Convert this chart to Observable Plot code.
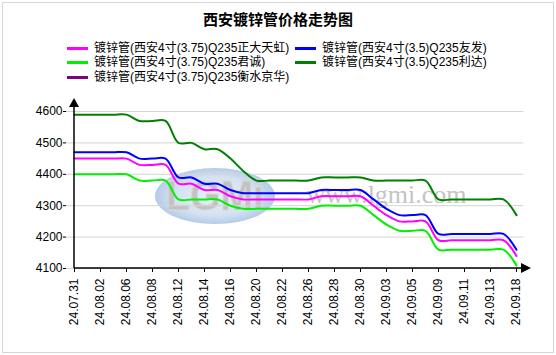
<!DOCTYPE html>
<html>
<head>
<meta charset="utf-8">
<script src="https://cdn.jsdelivr.net/npm/d3@7"></script>
<script src="https://cdn.jsdelivr.net/npm/@observablehq/plot@0.6"></script>
<style>
  html, body { margin: 0; padding: 0; background: #fff; }
  #wrap { position: relative; width: 556px; height: 355px; overflow: hidden; background: #fff;
          font-family: 'Liberation Sans', Arial, 'Noto Sans CJK SC', sans-serif; }
  #border { position: absolute; left: 2px; top: 2px; width: 550px; height: 349px; border: 1px solid #d6d6d6; pointer-events: none; }
  #title { position: absolute; left: 0; top: 12px; width: 556px; text-align: center; font-size: 15px; font-weight: bold;
           line-height: 16px; color: #000; font-family: 'Liberation Sans', 'Noto Sans CJK SC', sans-serif; }
  .lg { position: absolute; height: 14px; line-height: 14px; font-size: 12px; color: #000; white-space: nowrap; }
  .lg .sw { position: absolute; left: 0; top: 6px; width: 21px; height: 3px; }
  .lg .tx { position: absolute; left: 27px; top: 0; }
  #chart { position: absolute; left: 0; top: 85px; }
</style>
</head>
<body>
<div id="wrap">
  <div id="title"></div>
  <div id="legend"></div>
  <div id="chart"></div>
  <div id="border"></div>
</div>
<script>
// ---- data ----
const titleText = "西安镀锌管价格走势图";
const dates = ["24.07.31","24.08.01","24.08.02","24.08.05","24.08.06","24.08.07","24.08.08","24.08.09",
  "24.08.12","24.08.13","24.08.14","24.08.15","24.08.16","24.08.19","24.08.20","24.08.21","24.08.22",
  "24.08.23","24.08.26","24.08.27","24.08.28","24.08.29","24.08.30","24.09.02","24.09.03","24.09.04",
  "24.09.05","24.09.06","24.09.09","24.09.10","24.09.11","24.09.12","24.09.13","24.09.14","24.09.18"];
const xTickLabels = ["24.07.31","24.08.02","24.08.06","24.08.08","24.08.12","24.08.14","24.08.16","24.08.20",
  "24.08.22","24.08.26","24.08.28","24.08.30","24.09.03","24.09.05","24.09.09","24.09.11","24.09.13","24.09.18"];
const yTicks = [4100, 4200, 4300, 4400, 4500, 4600];

const seriesNames = [
  "镀锌管(西安4寸(3.75)Q235正大天虹)",
  "镀锌管(西安4寸(3.5)Q235友发)",
  "镀锌管(西安4寸(3.75)Q235君诚)",
  "镀锌管(西安4寸(3.5)Q235利达)",
  "镀锌管(西安4寸(3.75)Q235衡水京华)"
];
const seriesColors = ["#ff00ff", "#0000ff", "#00f000", "#008000", "#800080"];

const zhengDaTianHong = [4450,4450,4450,4450,4450,4430,4430,4430,4370,4370,4350,4350,4330,4320,4320,4320,4320,4320,4320,
  4330,4330,4330,4330,4300,4270,4250,4250,4250,4190,4190,4190,4190,4190,4190,4140];
const youFa = [4470,4470,4470,4470,4470,4450,4450,4450,4390,4390,4370,4370,4350,4340,4340,4340,4340,4340,4340,
  4350,4350,4350,4350,4320,4290,4270,4270,4270,4210,4210,4210,4210,4210,4210,4160];
const junCheng = [4400,4400,4400,4400,4400,4380,4380,4380,4320,4320,4320,4320,4300,4290,4290,4290,4290,4290,4290,
  4300,4300,4300,4300,4270,4240,4220,4220,4220,4160,4160,4160,4160,4160,4160,4110];
const liDa = [4590,4590,4590,4590,4590,4570,4570,4570,4500,4500,4480,4480,4450,4410,4380,4380,4380,4380,4380,
  4390,4390,4390,4390,4380,4380,4380,4380,4380,4320,4320,4320,4320,4320,4320,4270];
const hengShuiJingHua = []; // no visible line in the chart

const seriesValues = [zhengDaTianHong, youFa, junCheng, liDa, hengShuiJingHua];

// ---- title & legend ----
document.getElementById("title").textContent = titleText;
const legendPos = [[67, 40.5], [295, 40.5], [67, 55], [295, 55], [67, 69.5]];
const legend = document.getElementById("legend");
seriesNames.forEach((name, k) => {
  const item = document.createElement("div");
  item.className = "lg";
  item.style.left = legendPos[k][0] + "px";
  item.style.top = legendPos[k][1] + "px";
  const sw = document.createElement("div");
  sw.className = "sw";
  sw.style.background = seriesColors[k];
  const tx = document.createElement("div");
  tx.className = "tx";
  tx.textContent = name;
  item.appendChild(sw); item.appendChild(tx);
  legend.appendChild(item);
});

// ---- chart ----
const rows = [];
seriesNames.forEach((s, k) => seriesValues[k].forEach((v, i) => rows.push({date: dates[i], value: v, series: s})));

const chart = Plot.plot({
  width: 556,
  height: 270,
  marginLeft: 66,
  marginRight: 32.7,
  marginTop: 26,
  marginBottom: 87,
  style: {fontFamily: "'Liberation Sans', Arial, sans-serif", fontSize: "12px", color: "#000", background: "transparent", overflow: "visible"},
  x: {type: "point", domain: dates, padding: 0},
  y: {domain: [4100, 4600]},
  color: {domain: seriesNames, range: seriesColors},
  marks: [
    Plot.gridY(yTicks, {stroke: "#d4d4d4", strokeOpacity: 1, strokeWidth: 1}),
    Plot.axisY({ticks: yTicks, tickSize: 3, tickPadding: 1, label: null, tickFormat: "d", fontSize: 12}),
    Plot.axisX({ticks: xTickLabels, tickSize: 4, tickPadding: 6, tickRotate: -90, label: null, fontSize: 12}),
    Plot.line(rows, {x: "date", y: "value", stroke: "series", z: "series", curve: "catmull-rom", strokeWidth: 2})
  ]
});
document.getElementById("chart").appendChild(chart);

// ---- decorations: watermark, axis lines with arrows (positioned via the scales) ----
const xs = chart.scale("x"), ys = chart.scale("y");
const x0 = xs.apply(dates[0]), x1 = xs.apply(dates[dates.length - 1]);
const y0 = ys.apply(4100), y1 = ys.apply(4600);
const svg = d3.select(chart);

// watermark behind everything
const wm = svg.insert("g", ":scope > :not(style)").attr("pointer-events", "none");
const fw = x1 - x0, fh = y0 - y1;
const ecx = x0 + fw * 0.319, ecy = y1 + fh * 0.542;
const defs = wm.append("defs");
const grad = defs.append("radialGradient").attr("id", "wmgrad");
grad.append("stop").attr("offset", "0%").attr("stop-color", "#e8f0f9");
grad.append("stop").attr("offset", "70%").attr("stop-color", "#d3e1f2");
grad.append("stop").attr("offset", "100%").attr("stop-color", "#b4cbe8");
wm.append("ellipse").attr("cx", ecx).attr("cy", ecy).attr("rx", 60).attr("ry", 28).attr("fill", "url(#wmgrad)");
wm.append("text").attr("x", ecx).attr("y", ecy + 14).attr("text-anchor", "middle")
  .attr("textLength", 98).attr("lengthAdjust", "spacingAndGlyphs")
  .attr("font-family", "'Liberation Sans', Arial, sans-serif").attr("font-weight", "bold").attr("font-size", 42)
  .attr("fill", "#c2c2c2").attr("stroke", "#d8d8d8").attr("stroke-width", 0.8).text("LGMi");
wm.append("text").attr("x", x0 + fw * 0.526).attr("y", y1 + fh * 0.587).attr("text-anchor", "start")
  .attr("font-family", "'Liberation Serif', 'Times New Roman', serif").attr("font-size", 26)
  .attr("fill", "#c4c4c4").text("www.lgmi.com");

// axis lines & arrows
const ax = svg.append("g").attr("fill", "#000").attr("stroke", "#000");
ax.append("line").attr("x1", x0).attr("x2", x0).attr("y1", y0).attr("y2", y1 - 5).attr("stroke-width", 1.5);
ax.append("line").attr("x1", x0).attr("x2", x1 + 5).attr("y1", y0).attr("y2", y0).attr("stroke-width", 1.5);
ax.append("path").attr("stroke", "none")
  .attr("d", `M${x0},${y1 - 13}L${x0 + 5},${y1 - 4}L${x0 - 5},${y1 - 4}Z`);
ax.append("path").attr("stroke", "none")
  .attr("d", `M${x1 + 15},${y0}L${x1 + 5},${y0 - 5}L${x1 + 5},${y0 + 5}Z`);
</script>
</body>
</html>
